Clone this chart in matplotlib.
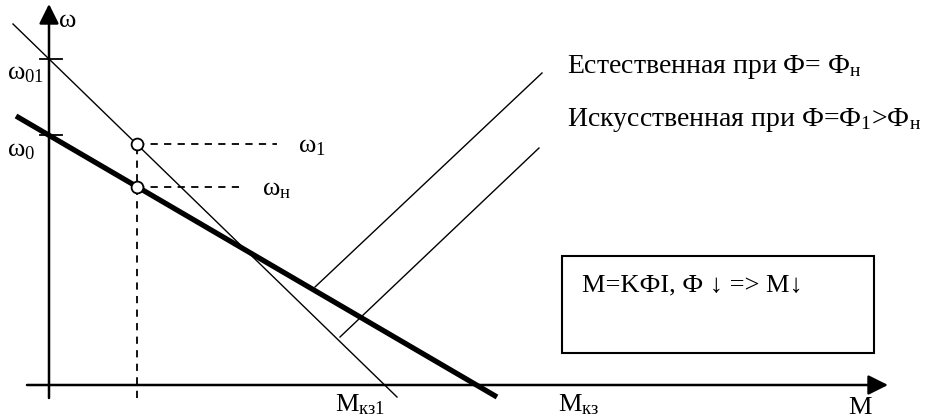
import matplotlib.pyplot as plt
from matplotlib.patches import Rectangle

plt.rcParams['font.family'] = ['Liberation Serif', 'DejaVu Serif']
plt.rcParams['mathtext.fontset'] = 'custom'
plt.rcParams['mathtext.rm'] = 'Liberation Serif'
plt.rcParams['mathtext.it'] = 'Liberation Serif:italic'

# скорости холостого хода и номинальный режим (условные единицы)
w0 = 250
w01 = 326
M_n = 88
w_n = 198
w_1 = 241

# естественная характеристика (толстая) - концы отрезка
nat_M = [-33, 448]
nat_w = [269, -12]
# искусственная при Ф1 > Фн (тонкая)
art_M = [-36, 348]
art_w = [361, -12]

# выноски к подписям
lead_nat_M = [266, 493]
lead_nat_w = [98, 312]
lead_art_M = [291, 490]
lead_art_w = [48, 237]

box_M = [513, 825]
box_w = [32, 129]

fig = plt.figure(figsize=(9.39, 4.18), dpi=100)
ax = fig.add_axes([0, 0, 1, 1])
ax.set_xlim(-49, 890)
ax.set_ylim(-33, 385)
ax.axis('off')

# оси координат со стрелками
arr = dict(arrowstyle='-|>,head_length=0.6,head_width=0.3', lw=1.8,
           color='k', mutation_scale=20, shrinkA=0, shrinkB=0)
ax.annotate('', xy=(839, 0), xytext=(-22, 0), arrowprops=arr)
ax.annotate('', xy=(0, 381), xytext=(0, -13), arrowprops=arr)

# засечки на оси ω
for w in (w01, w0):
    ax.plot([-9, 13], [w, w], color='k', lw=1.3)

ax.plot(nat_M, nat_w, color='k', lw=3.8, solid_capstyle='butt')
ax.plot(art_M, art_w, color='k', lw=1.0)
ax.plot(lead_nat_M, lead_nat_w, color='k', lw=1.0)
ax.plot(lead_art_M, lead_art_w, color='k', lw=1.0)

# пунктирные проекции рабочих точек
ax.plot([M_n, M_n], [-13, w_1], color='k', lw=1.3, ls=(0, (4, 3.5)))
ax.plot([M_n, 228], [w_1, w_1], color='k', lw=1.3, ls=(0, (4, 3.5)))
ax.plot([M_n, 194], [w_n, w_n], color='k', lw=1.3, ls=(0, (4, 3.5)))
ax.plot([M_n, M_n], [w_1, w_n], 'o', ms=8.5, mfc='white', mec='k', mew=1.3)

ax.add_patch(Rectangle((box_M[0], box_w[0]), box_M[1] - box_M[0],
                       box_w[1] - box_w[0], fill=False, lw=1.5, ec='k'))

fs = 19
ax.text(10, 364, 'ω', fontsize=fs, va='center')
ax.text(-42, 311, 'ω$_{01}$', fontsize=fs, va='center')
ax.text(-42, 234, 'ω$_{0}$', fontsize=fs, va='center')
ax.text(249, 238, 'ω$_{1}$', fontsize=fs, va='center')
ax.text(213, 195, 'ω$_{\\mathrm{н}}$', fontsize=fs, va='center')
ax.text(518, 318, 'Естественная при Ф= Ф$_{\\mathrm{н}}$', fontsize=20, va='center')
ax.text(518, 265, 'Искусственная при Ф=Ф$_{1}$>Ф$_{\\mathrm{н}}$', fontsize=20, va='center')
ax.text(533, 100, 'M=KФI, Ф ↓ => M↓', fontsize=fs, va='center',
        family=['Liberation Serif', 'DejaVu Serif'])
ax.text(286, -20, 'M$_{\\mathrm{кз1}}$', fontsize=fs, va='center')
ax.text(509, -20, 'M$_{\\mathrm{кз}}$', fontsize=fs, va='center')
ax.text(799, -23, 'M', fontsize=fs, va='center')

fig.savefig('out.png', dpi=100)
